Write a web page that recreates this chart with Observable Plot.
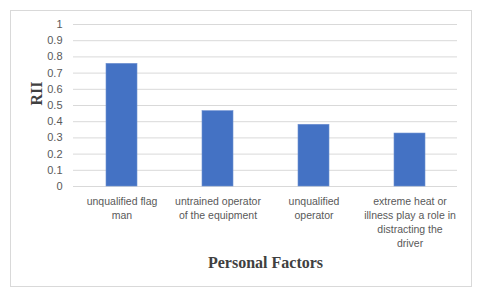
<!DOCTYPE html>
<html>
<head>
<meta charset="utf-8">
<script src="https://cdn.jsdelivr.net/npm/d3@7"></script>
<script src="https://cdn.jsdelivr.net/npm/@observablehq/plot@0.6"></script>
<style>
  html, body { margin: 0; padding: 0; background: #fff; }
  #wrap { position: relative; width: 480px; height: 300px; }
  #border { position: absolute; left: 10px; top: 10px; width: 462px; height: 277px; border: 1px solid #d9d9d9; box-sizing: border-box; pointer-events: none; }
</style>
</head>
<body>
<div id="wrap"><div id="border"></div></div>
<script>
const categories = ["unqualified flag man", "untrained operator of the equipment", "unqualified operator", "extreme heat or illness play a role in distracting the driver"];
const tickLabels = ["unqualified flag\nman", "untrained operator\nof the equipment", "unqualified\noperator", "extreme heat or\nillness play a role in\ndistracting the\ndriver"];
const rii = [0.757, 0.465, 0.381, 0.327];
const yTicks = [0, 0.1, 0.2, 0.3, 0.4, 0.5, 0.6, 0.7, 0.8, 0.9, 1];
const yTickLabels = ["0", "0.1", "0.2", "0.3", "0.4", "0.5", "0.6", "0.7", "0.8", "0.9", "1"];
const yTitle = "RII";
const xTitle = "Personal Factors";

const data = categories.map((c, i) => ({category: c, value: rii[i]}));
const labelOf = new Map(categories.map((c, i) => [c, tickLabels[i]]));
const yLabelOf = new Map(yTicks.map((t, i) => [t, yTickLabels[i]]));

const chart = Plot.plot({
  width: 480,
  height: 300,
  marginLeft: 73,
  marginRight: 23,
  marginTop: 24,
  marginBottom: 114,
  style: {background: "transparent", overflow: "visible"},
  x: {domain: categories, paddingInner: 0.68, paddingOuter: 0.34, label: null},
  y: {domain: [0, 1], label: null},
  marks: [
    Plot.gridY(yTicks, {stroke: "#d9d9d9", strokeOpacity: 1, strokeWidth: 1}),
    Plot.barY(data, {x: "category", y: "value", fill: "#4472c4", stroke: "#6d8fd0", strokeWidth: 0.6}),
    Plot.axisY({ticks: yTicks, tickSize: 0, tickPadding: 11, label: null, tickFormat: d => yLabelOf.get(d),
      fontFamily: "Liberation Sans, Arial, sans-serif", fontSize: 11, fill: "#595959"}),
    Plot.axisX({tickSize: 0, tickPadding: 9, label: null, tickFormat: d => labelOf.get(d),
      lineHeight: 1.32, lineAnchor: "top",
      fontFamily: "Liberation Sans, Arial, sans-serif", fontSize: 10.5, fill: "#595959"}),
    Plot.text([yTitle], {text: d => d, frameAnchor: "left", rotate: -90, dx: -37,
      fontFamily: "Liberation Serif, Times New Roman, serif", fontSize: 16, fontWeight: "bold", fill: "#404040"}),
    Plot.text([xTitle], {text: d => d, frameAnchor: "bottom", dy: 81,
      fontFamily: "Liberation Serif, Times New Roman, serif", fontSize: 16, fontWeight: "bold", fill: "#404040"})
  ]
});
document.getElementById("wrap").appendChild(chart);
chart.style.position = "absolute";
chart.style.left = "0";
chart.style.top = "0";
</script>
</body>
</html>
